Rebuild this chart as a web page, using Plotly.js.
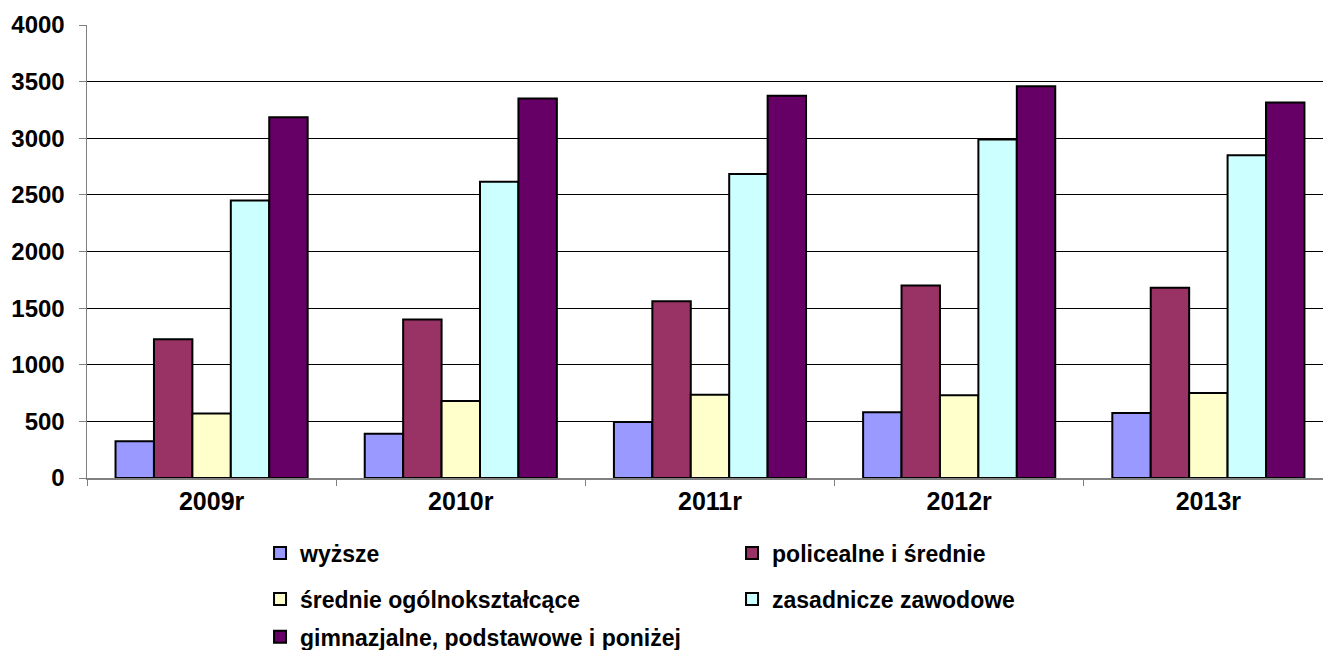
<!DOCTYPE html>
<html>
<head>
<meta charset="utf-8">
<script src="https://cdn.plot.ly/plotly-3.0.1.min.js"></script>
<style>html,body{margin:0;padding:0;background:#fff;}#chart{width:1323px;height:650px;}</style>
</head>
<body>
<div id="chart"></div>
<script>
const categories = ["2009r", "2010r", "2011r", "2012r", "2013r"];
const seriesNames = ["wyższe", "policealne i średnie", "średnie ogólnokształcące", "zasadnicze zawodowe", "gimnazjalne, podstawowe i poniżej"];
const wyzsze = [325, 390, 495, 580, 575];
const policealne = [1225, 1400, 1560, 1700, 1680];
const srednieOgolne = [570, 680, 735, 730, 750];
const zasadnicze = [2450, 2615, 2685, 2990, 2850];
const gimnazjalne = [3185, 3350, 3375, 3460, 3315];
const yTicks = [0, 500, 1000, 1500, 2000, 2500, 3000, 3500, 4000];

const colors = ["#9999FF", "#993366", "#FFFFCC", "#CCFFFF", "#660066"];
const values = [wyzsze, policealne, srednieOgolne, zasadnicze, gimnazjalne];
const legendIds = ["legend", "legend", "legend2", "legend2", "legend3"];

const font = {family: "Liberation Sans, Arial, sans-serif", color: "#000"};

const traces = values.map((v, i) => ({
  type: "bar",
  x: categories,
  y: v,
  name: seriesNames[i],
  legend: legendIds[i],
  marker: {color: colors[i], line: {color: "#000", width: 2}},
  hoverinfo: "x+y+name"
}));

const legendCommon = {
  orientation: "h",
  xanchor: "left",
  yanchor: "middle",
  x: 0.14,
  entrywidth: 427,
  entrywidthmode: "pixels",
  font: Object.assign({}, font, {size: 23, weight: "bold"}),
  bgcolor: "rgba(0,0,0,0)",
  itemwidth: 30,
  traceorder: "normal"
};

const layout = {
  width: 1323,
  height: 650,
  margin: {l: 87, r: 0, t: 25, b: 172, autoexpand: false},
  paper_bgcolor: "#fff",
  plot_bgcolor: "#fff",
  font: font,
  barmode: "group",
  bargap: 0.229,
  bargroupgap: 0,
  showlegend: true,
  xaxis: {
    type: "category",
    range: [-0.5, 4.46],
    showline: true,
    linecolor: "#808080",
    linewidth: 1.5,
    ticks: "outside",
    tickson: "boundaries",
    ticklen: 6,
    tickcolor: "#808080",
    showgrid: false,
    tickfont: Object.assign({}, font, {size: 25, weight: "bold"}),
    fixedrange: true,
    automargin: false
  },
  yaxis: {
    range: [0, 4000],
    tickvals: yTicks,
    ticktext: yTicks.map(String),
    showline: true,
    linecolor: "#808080",
    linewidth: 1.5,
    ticks: "outside",
    ticklen: 7,
    tickcolor: "#808080",
    showgrid: true,
    gridcolor: "#000",
    gridwidth: 1.2,
    zeroline: false,
    tickfont: Object.assign({}, font, {size: 24, weight: "bold"}),
    ticklabelstandoff: 9,
    fixedrange: true,
    automargin: false
  },
  legend: Object.assign({}, legendCommon, {y: -0.1656}),
  legend2: Object.assign({}, legendCommon, {y: -0.267}),
  legend3: Object.assign({}, legendCommon, {y: -0.398, yanchor: "bottom"})
};

Plotly.newPlot("chart", traces, layout, {displayModeBar: false, staticPlot: true});
</script>
</body>
</html>
